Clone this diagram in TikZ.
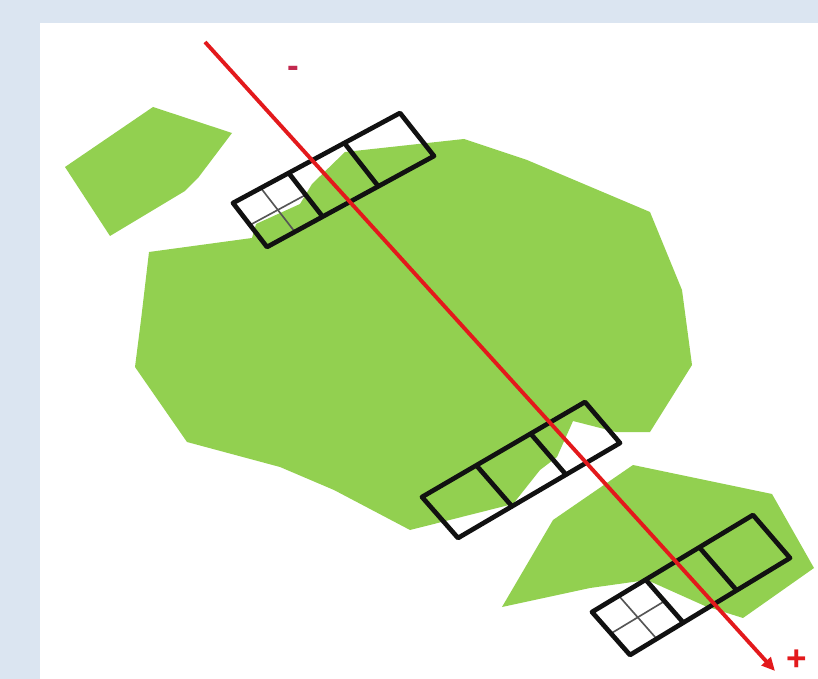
\documentclass[tikz,border=0pt]{standalone}
\usepackage{fontspec}
\setsansfont{Liberation Sans}
\usepackage{tikz}
\usepackage{xcolor}
\usetikzlibrary{arrows.meta,calc}
\definecolor{frame}{HTML}{DBE5F1}
\definecolor{land}{HTML}{92D050}
\definecolor{ink}{HTML}{111111}
\definecolor{inkgray}{HTML}{555555}
\definecolor{axisred}{HTML}{E3191C}
\definecolor{minusred}{HTML}{C2284E}
\tikzset{
  patch/.style={fill=land,draw=none},
  stripline/.style={draw=ink,line width=4pt,line join=round},
  quarterline/.style={draw=inkgray,line width=1.4pt},
  axisline/.style={draw=axisred,line width=3.3pt,
                   -{Triangle[length=4mm,width=3.6mm]}},
  signlabel/.style={font=\sffamily\bfseries\fontsize{30}{30}\selectfont,inner sep=0pt}
}
\newcommand{\cellquarter}[1]{%
  \coordinate (#1qt) at ($(#1tl)!1/6!(#1tr)$);
  \coordinate (#1qb) at ($(#1bl)!1/6!(#1br)$);
  \coordinate (#1ml) at ($(#1tl)!.5!(#1bl)$);
  \coordinate (#1mr) at ($(#1tr)!.5!(#1br)$);
  \coordinate (#1qr) at ($(#1ml)!1/3!(#1mr)$);
  \draw[quarterline] (#1qt) -- (#1qb);
  \draw[quarterline] (#1ml) -- (#1qr);
}
\newcommand{\cellstrip}[1]{%
  \coordinate (#1t1) at ($(#1tl)!1/3!(#1tr)$);
  \coordinate (#1t2) at ($(#1tl)!2/3!(#1tr)$);
  \coordinate (#1b1) at ($(#1bl)!1/3!(#1br)$);
  \coordinate (#1b2) at ($(#1bl)!2/3!(#1br)$);
  \draw[stripline] (#1tl) -- (#1tr) -- (#1br) -- (#1bl) -- cycle;
  \draw[stripline] (#1t1) -- (#1b1);
  \draw[stripline] (#1t2) -- (#1b2);
}

\begin{document}
\begin{tikzpicture}[x=0.3mm,y=-0.3mm]
  \useasboundingbox (0,0) rectangle (818,679);
  \fill[frame] (0,0) rectangle (818,679);
  \fill[white] (40,23) rectangle (818,679);

  \fill[patch] (153,107) -- (232,133) -- (198,178) -- (185,191) -- (110,236) -- (65,167) -- cycle;
  \fill[patch] (149,252) -- (252,238) -- (256,224) -- (300,204) -- (312,184) -- (345,152)
    -- (464,139) -- (527,160) -- (650,212) -- (682,290) -- (692,365) -- (650,432)
    -- (616,432) -- (573,421) -- (557,457) -- (540,470) -- (513,504) -- (410,530)
    -- (334,490) -- (280,467) -- (187,442) -- (135,367) -- (141,320) -- cycle;
  \fill[patch] (502,607) -- (553,520) -- (633,465) -- (772,494) -- (814,568)
    -- (743,618) -- (705,606) -- (647,580) -- (590,588) -- cycle;

  \coordinate (atl) at (233,203);
  \coordinate (atr) at (400,113);
  \coordinate (abr) at (434,156);
  \coordinate (abl) at (267,247);
  \coordinate (btl) at (422,497);
  \coordinate (btr) at (585,402);
  \coordinate (bbr) at (620,443);
  \coordinate (bbl) at (458,538);
  \coordinate (ctl) at (592,612);
  \coordinate (ctr) at (753,515);
  \coordinate (cbr) at (790,558);
  \coordinate (cbl) at (630,655);

  \cellquarter{a}
  \cellquarter{c}
  \cellstrip{a}
  \cellstrip{b}
  \cellstrip{c}

  \coordinate (start) at (205,42);
  \coordinate (tip) at (775,671);
  \draw[axisline] (start) -- (tip);
  \node[signlabel,text=minusred] (minus) at (293,72) {-};
  \node[signlabel,text=axisred] (plus) at (797,660) {+};
\end{tikzpicture}
\end{document}
